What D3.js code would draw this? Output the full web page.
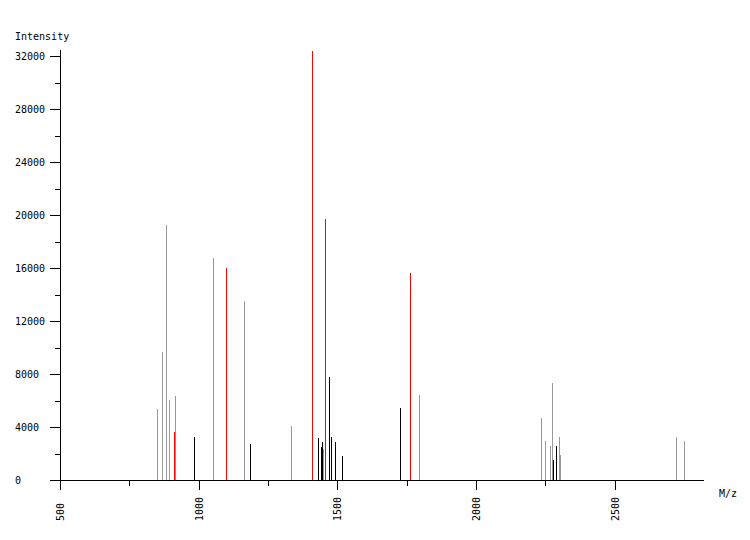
<!DOCTYPE html>
<html><head><meta charset="utf-8">
<script src="https://cdn.jsdelivr.net/npm/d3@7"></script>
<style>
html,body{margin:0;padding:0;background:#fff;}
text{font-family:"DejaVu Sans Mono","Liberation Mono",monospace;font-size:10px;fill:#000;}
</style></head>
<body>
<svg id="chart" width="750" height="540"></svg>
<script>
// Peaks: m/z, intensity, colour group (g = grey, r = red, k = black)
const mzValues = [849.9, 867.9, 882.3, 893.2, 911.2, 914.8, 983.3, 1051.9, 1098.7, 1163.7, 1185.3,
  1333.2, 1408.9, 1430.6, 1441.4, 1445.0, 1448.6, 1455.8, 1470.3, 1477.5, 1491.9, 1517.1,
  1726.3, 1762.4, 1794.9,
  2234.9, 2249.3, 2267.4, 2274.6, 2278.2, 2289.0, 2299.8, 2303.5,
  2721.8, 2750.7];
const intensities = [5360, 9660, 19250, 6040, 3620, 6340, 3245, 16750, 16000, 13530, 2717,
  4075, 32380, 3170, 2490, 2868, 2360, 19700, 7775, 3245, 2868, 1811,
  5410, 15600, 6415,
  4680, 2966, 2566, 7320, 1509, 2566, 3245, 1887,
  3270, 2943];
const groups = ["g","g","g","g","r","g","k","g","r","g","k",
  "g","r","k","k","k","g","r","k","k","k","k",
  "k","r","g",
  "g","g","g","g","k","k","g","g",
  "g","g"];
const xMajorTicks = [500, 1000, 1500, 2000, 2500];
const xMinorTicks = [750, 1250, 1750, 2250];
const yMajorTicks = [0, 4000, 8000, 12000, 16000, 20000, 24000, 28000, 32000];
const yMinorTicks = [2000, 6000, 10000, 14000, 18000, 22000, 26000, 30000];

const colours = {g: "#999999", r: "#ff0000", k: "#000000"};
const peaks = mzValues.map((m, i) => ({mz: m, v: intensities[i], g: groups[i]}));

const svg = d3.select("#chart");
const x = d3.scaleLinear().domain([500, 2500]).range([60.5, 615]);
const y = d3.scaleLinear().domain([0, 32000]).range([480, 56]);

// bars
svg.append("g").selectAll("rect").data(peaks).join("rect")
  .attr("x", d => Math.floor(x(d.mz)))
  .attr("width", 1)
  .attr("y", d => Math.round(y(d.v)))
  .attr("height", d => 480 - Math.round(y(d.v)))
  .attr("fill", d => colours[d.g])
  .attr("shape-rendering", "crispEdges");

// axes lines
const ax = svg.append("g").attr("stroke", "#000").attr("stroke-width", 1).attr("shape-rendering", "crispEdges");
ax.append("line").attr("x1", 50).attr("x2", 704).attr("y1", 480.5).attr("y2", 480.5);
ax.append("line").attr("x1", 60.5).attr("x2", 60.5).attr("y1", 50).attr("y2", 490);

// x ticks
ax.selectAll(".xM").data(xMajorTicks).join("line")
  .attr("x1", d => Math.floor(x(d)) + 0.5).attr("x2", d => Math.floor(x(d)) + 0.5)
  .attr("y1", 480).attr("y2", 490);
ax.selectAll(".xm").data(xMinorTicks).join("line").attr("class", "xm")
  .attr("x1", d => Math.floor(x(d)) + 0.5).attr("x2", d => Math.floor(x(d)) + 0.5)
  .attr("y1", 480).attr("y2", 486);
// y ticks
ax.selectAll(".yM").data(yMajorTicks).join("line").attr("class", "yM")
  .attr("x1", 50).attr("x2", 60)
  .attr("y1", d => Math.round(y(d)) + 0.5).attr("y2", d => Math.round(y(d)) + 0.5);
ax.selectAll(".ym").data(yMinorTicks).join("line").attr("class", "ym")
  .attr("x1", 55).attr("x2", 60)
  .attr("y1", d => Math.round(y(d)) + 0.5).attr("y2", d => Math.round(y(d)) + 0.5);

// labels
svg.append("g").selectAll("text").data(yMajorTicks).join("text")
  .attr("x", 15).attr("y", d => y(d) + 3.5)
  .text(d => d);
svg.append("g").selectAll("text").data(xMajorTicks).join("text")
  .attr("transform", d => `translate(${Math.floor(x(d)) + 0.5},521) rotate(-90)`)
  .attr("dy", "0.35em")
  .attr("text-anchor", "start")
  .text(d => d);
svg.append("text").attr("x", 15).attr("y", 40).text("Intensity");
svg.append("text").attr("x", 719).attr("y", 497).text("M/z");
</script>
</body></html>
